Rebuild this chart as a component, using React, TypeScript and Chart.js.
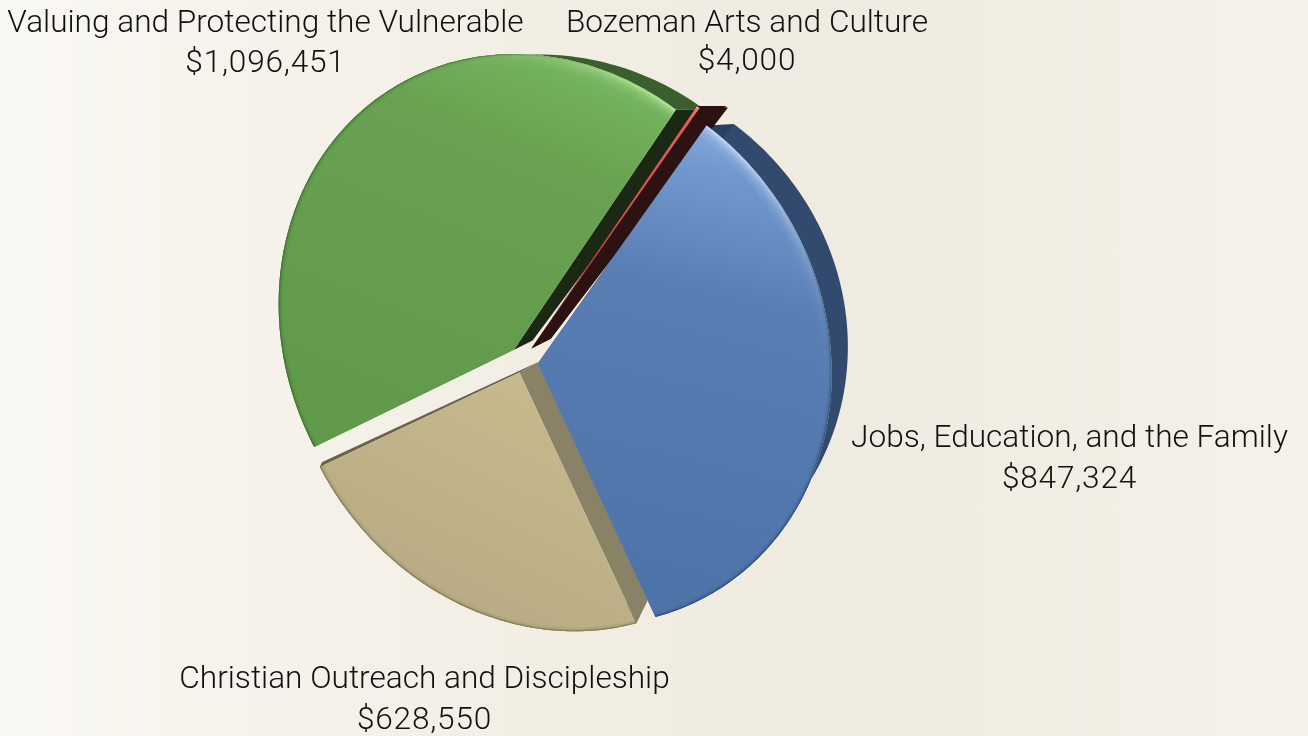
import React, { useEffect, useRef } from "react";
import { Chart, registerables } from "chart.js";

Chart.register(...registerables);

const categories = [
  "Valuing and Protecting the Vulnerable",
  "Bozeman Arts and Culture",
  "Jobs, Education, and the Family",
  "Christian Outreach and Discipleship",
];
const amounts = [1096451, 4000, 847324, 628550];
const explode = [18, 21, 20.5, 16.5];
const baseColors = ["#659f4f", "#d8504f", "#557bb0", "#c0b388"];

// label placement: centre x, baseline of first line, baseline of second line
const labelLayout = [
  [265.5, 32, 72],
  [747, 32, 70],
  [1069.5, 447, 488],
  [424.5, 688, 729],
];

const LABEL_FONT = '300 31.6px Roboto, "Liberation Sans", sans-serif';

// front-face styling per slice: gradient stops, rim highlight and extrusion colours
const frontStops = [
  [[0, "#8ac874"], [0.16, "#72b15c"], [0.36, "#67a151"], [1, "#609a4a"]],
  [[0, "#e8605e"], [1, "#c8403f"]],
  [[0, "#8fb3e2"], [0.14, "#7299cf"], [0.38, "#587eb3"], [1, "#4e73a9"]],
  [[0, "#c9bc8d"], [1, "#b9ac84"]],
];
const highlight = ["200,245,170", "255,170,170", "215,235,255", "225,215,175"];
const shade = ["35,65,25", "70,10,10", "20,35,65", "70,62,40"];
const rimColors = ["#3b5f2c", "#7a1f27", "#314a6e", "#6f6850"];
const startCut = ["#4a7a38", "#2c1212", "#2a3f5f", "#8a8266"];
const endCut = ["#1b2814", "#2c1212", "#2a3f5f", "#6a624c"];

// view of the disk: disk-plane anchors to screen (perspective camera), front plane and back plane
const deg = Math.PI / 180;
const onRim = (a: number) => [Math.cos(a * deg), Math.sin(a * deg)];
const viewDisk: number[][] = [[0, 0], onRim(154), onRim(307.2), onRim(66.2)];
const viewFront: number[][] = [[522.8, 360.8], [322, 457], [686, 122], [640, 613]];
const viewBack: number[][] = [[541.5, 351], [325, 452], [714, 121], [653, 587.5]];

function solveHomography(src: number[][], dst: number[][]) {
  const m: number[][] = [];
  for (let i = 0; i < 4; i++) {
    const [u, v] = src[i];
    const [x, y] = dst[i];
    m.push([u, v, 1, 0, 0, 0, -u * x, -v * x, x]);
    m.push([0, 0, 0, u, v, 1, -u * y, -v * y, y]);
  }
  for (let c = 0; c < 8; c++) {
    let p = c;
    for (let r = c + 1; r < 8; r++) if (Math.abs(m[r][c]) > Math.abs(m[p][c])) p = r;
    [m[c], m[p]] = [m[p], m[c]];
    for (let r = 0; r < 8; r++) {
      if (r === c) continue;
      const f = m[r][c] / m[c][c];
      for (let k = c; k < 9; k++) m[r][k] -= f * m[c][k];
    }
  }
  return m.map((row, i) => row[8] / row[i]);
}
const project = (h: number[], u: number, v: number) => {
  const w = h[6] * u + h[7] * v + 1;
  return [(h[0] * u + h[1] * v + h[2]) / w, (h[3] * u + h[4] * v + h[5]) / w];
};

const H_FRONT = solveHomography(viewDisk, viewFront);
const H_BACK = solveHomography(viewDisk, viewBack);

function rim(el: any, h: number[], offsetPx: number) {
  const R = el.outerRadius;
  const mid = (el.startAngle + el.endAngle) / 2;
  const ou = (Math.cos(mid) * offsetPx) / R;
  const ov = (Math.sin(mid) * offsetPx) / R;
  const n = Math.max(2, Math.ceil((el.endAngle - el.startAngle) / (1 * deg)));
  const pts: number[][] = [];
  for (let i = 0; i <= n; i++) {
    const a = el.startAngle + ((el.endAngle - el.startAngle) * i) / n;
    pts.push(project(h, Math.cos(a) + ou, Math.sin(a) + ov));
  }
  return { apex: project(h, ou, ov), pts, angles: pts.map((_, i) => el.startAngle + ((el.endAngle - el.startAngle) * i) / n) };
}

function fillPoly(ctx: CanvasRenderingContext2D, pts: number[][], color: any) {
  ctx.beginPath();
  pts.forEach((p, i) => (i ? ctx.lineTo(p[0], p[1]) : ctx.moveTo(p[0], p[1])));
  ctx.closePath();
  ctx.fillStyle = color;
  ctx.fill();
}

const pie3d = {
  id: "pie3d",
  beforeDatasetDraw(chart: any) {
    const ctx: CanvasRenderingContext2D = chart.ctx;
    const arcs = chart.getDatasetMeta(0).data;
    const faces = arcs.map((el: any, i: number) => ({
      f: rim(el, H_FRONT, el.options.offset),
      b: rim(el, H_BACK, el.options.offset),
      i,
    }));
    ctx.save();
    // extruded sides
    [2, 3, 0, 1].forEach((idx) => {
      const { f, b, i } = faces[idx];
      fillPoly(ctx, [...f.pts, ...b.pts.slice().reverse()], rimColors[i]);
      fillPoly(ctx, [f.apex, f.pts[0], b.pts[0], b.apex], startCut[i]);
      const lf = f.pts[f.pts.length - 1];
      const lb = b.pts[b.pts.length - 1];
      fillPoly(ctx, [f.apex, lf, lb, b.apex], endCut[i]);
    });
    // front faces
    [3, 0, 1, 2].forEach((idx) => {
      const { f, i } = faces[idx];
      const all = [f.apex, ...f.pts];
      const xs = all.map((p) => p[0]);
      const ys = all.map((p) => p[1]);
      const minX = Math.min(...xs), maxX = Math.max(...xs), minY = Math.min(...ys), maxY = Math.max(...ys);
      const g = ctx.createLinearGradient(maxX, minY, minX + (maxX - minX) * 0.6, maxY);
      frontStops[i].forEach(([s, c]: any) => g.addColorStop(s, c));
      fillPoly(ctx, all, g);
      ctx.save();
      ctx.beginPath();
      all.forEach((p, k) => (k ? ctx.lineTo(p[0], p[1]) : ctx.moveTo(p[0], p[1])));
      ctx.closePath();
      ctx.clip();
      // rim bevel: lit towards the upper right, shaded elsewhere
      const lightDir = -52 * deg;
      ctx.lineCap = "butt";
      for (let s = 0; s < f.pts.length - 1; s++) {
        const c = Math.cos(f.angles[s] - lightDir);
        const lit = Math.pow(Math.max(0, c), 6);
        const pA = f.pts[s], pB = f.pts[s + 1];
        [[24, 0.08], [16, 0.12], [10, 0.2], [5, 0.4]].forEach(([w, al]) => {
          if (lit > 0.02) {
            ctx.strokeStyle = `rgba(${highlight[i]},${(al * lit * 1.1).toFixed(3)})`;
            ctx.lineWidth = w;
            ctx.beginPath();
            ctx.moveTo(pA[0], pA[1]);
            ctx.lineTo(pB[0], pB[1]);
            ctx.stroke();
          }
        });
        const dark = 1 - lit;
        [[8, 0.06], [4, 0.12], [2, 0.3]].forEach(([w, al]) => {
          ctx.strokeStyle = `rgba(${shade[i]},${(al * dark).toFixed(3)})`;
          ctx.lineWidth = w;
          ctx.beginPath();
          ctx.moveTo(pA[0], pA[1]);
          ctx.lineTo(pB[0], pB[1]);
          ctx.stroke();
        });
      }
      ctx.restore();
    });
    ctx.restore();
    return false;
  },
  afterDraw(chart: any) {
    const ctx: CanvasRenderingContext2D = chart.ctx as any;
    ctx.save();
    ctx.font = LABEL_FONT;
    ctx.fillStyle = "#111111";
    ctx.textAlign = "center";
    ctx.textBaseline = "alphabetic";
    categories.forEach((name, i) => {
      const [x, y1, y2] = labelLayout[i];
      (ctx as any).letterSpacing = "0px";
      ctx.fillText(name, x, y1);
      (ctx as any).letterSpacing = "0.8px";
      ctx.fillText("$" + amounts[i].toLocaleString("en-US"), x, y2);
    });
    ctx.restore();
  },
};

export default function App() {
  const ref = useRef<HTMLCanvasElement>(null);
  useEffect(() => {
    document.body.style.margin = "0";
    const chart = new Chart(ref.current as HTMLCanvasElement, {
      type: "pie",
      data: {
        labels: categories,
        datasets: [
          {
            data: amounts,
            backgroundColor: baseColors,
            offset: explode,
            borderWidth: 0,
          },
        ],
      },
      options: {
        animation: false,
        responsive: false,
        rotation: 244,
        layout: { padding: 0 },
        plugins: { legend: { display: false }, tooltip: { enabled: false } },
      },
      plugins: [pie3d],
    } as any);
    return () => chart.destroy();
  }, []);
  return (
    <div
      style={{
        position: "fixed",
        left: 0,
        top: 0,
        width: 1308,
        height: 736,
        overflow: "hidden",
        background:
          "linear-gradient(90deg,#faf8f3 0%,#f6f3ec 18%,#f2eee4 40%,#efebe0 62%,#f1ede3 80%,#f5f2ea 100%)",
      }}
    >
      <canvas ref={ref} width={1308} height={736} style={{ display: "block" }} />
    </div>
  );
}
